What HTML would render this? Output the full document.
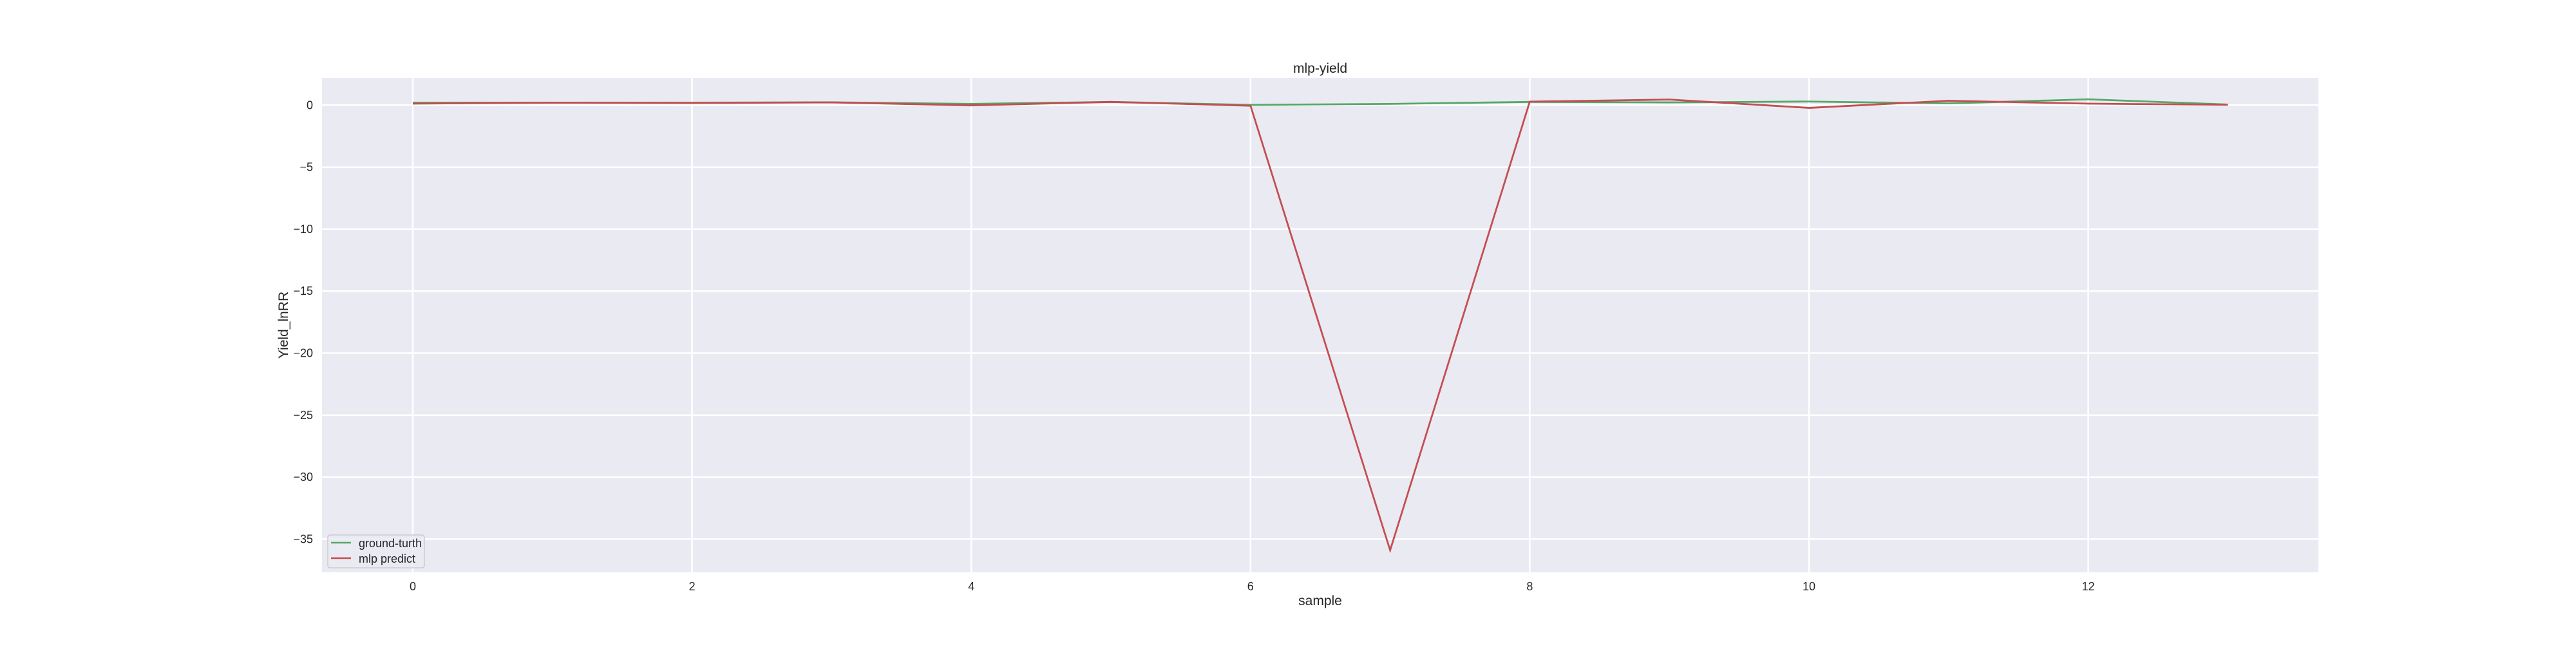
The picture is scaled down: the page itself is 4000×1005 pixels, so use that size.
<!DOCTYPE html>
<html><head><meta charset="utf-8"><style>
body{margin:0;background:#fff;}
svg text{font-family:"Liberation Sans","DejaVu Sans",sans-serif;fill:#262626;}
</style></head><body>
<svg id="chart" width="4000" height="1000" xmlns="http://www.w3.org/2000/svg">
<rect x="0" y="0" width="4000" height="1000" fill="#fff"/>
<rect x="500" y="121" width="3100" height="768" fill="#eaeaf2"/>
<g id="grid"></g>
<g id="series"></g>
<g id="ticks"></g>
<text x="2050" y="113" font-size="21" text-anchor="middle">mlp-yield</text>
<text x="2050" y="940" font-size="21" text-anchor="middle">sample</text>
<text transform="translate(447,505) rotate(-90)" font-size="21" text-anchor="middle">Yield_lnRR</text>
<g>
<rect x="509" y="831" width="150" height="51" rx="4" fill="#eaeaf2" fill-opacity="0.8" stroke="#cccccc" stroke-width="1.5"/>
<line x1="514" y1="843" x2="545" y2="843" stroke="#55a868" stroke-width="2.5"/>
<text x="557" y="850" font-size="18">ground-turth</text>
<line x1="514" y1="867" x2="545" y2="867" stroke="#c44e52" stroke-width="2.5"/>
<text x="557" y="874" font-size="18">mlp predict</text>
</g>
</svg>
<script>
const samples=[0,1,2,3,4,5,6,7,8,9,10,11,12,13];
const groundTruth=[0.2,0.2,0.2,0.23,0.1,0.26,0.02,0.1,0.26,0.22,0.29,0.14,0.47,0.05];
const mlpPredict=[0.12,0.2,0.17,0.22,-0.02,0.26,-0.05,-35.9,0.28,0.45,-0.22,0.35,0.12,0.03];
const xTicks=[0,2,4,6,8,10,12];
const yTicks=[0,-5,-10,-15,-20,-25,-30,-35];
const X0=641,XU=216.8,Y0=163.3,YU=19.26;
function sx(v){return X0+v*XU;}
function sy(v){return Y0-v*YU;}
const NS="http://www.w3.org/2000/svg";
const grid=document.getElementById('grid'),ticks=document.getElementById('ticks'),series=document.getElementById('series');
xTicks.forEach(t=>{
 const l=document.createElementNS(NS,'line');
 l.setAttribute('x1',sx(t));l.setAttribute('x2',sx(t));l.setAttribute('y1',121);l.setAttribute('y2',889);
 l.setAttribute('stroke','#fff');l.setAttribute('stroke-width',2.5);
 
 
 grid.appendChild(l);
 const tx=document.createElementNS(NS,'text');
 tx.setAttribute('x',sx(t));tx.setAttribute('y',917);tx.setAttribute('font-size',18);tx.setAttribute('text-anchor','middle');
 tx.textContent=t;
 
 
 ticks.appendChild(tx);
});
yTicks.forEach(t=>{
 const l=document.createElementNS(NS,'line');
 l.setAttribute('x1',500);l.setAttribute('x2',3600);l.setAttribute('y1',sy(t));l.setAttribute('y2',sy(t));
 l.setAttribute('stroke','#fff');l.setAttribute('stroke-width',2.5);
 
 
 grid.appendChild(l);
 const tx=document.createElementNS(NS,'text');
 tx.setAttribute('x',486);tx.setAttribute('y',sy(t)+6);tx.setAttribute('font-size',18);tx.setAttribute('text-anchor','end');
 tx.textContent=t<0?'\u2212'+(-t):String(t);
 
 
 ticks.appendChild(tx);
});
function drawLine(vals,color,name){
 const p=document.createElementNS(NS,'polyline');
 p.setAttribute('points',vals.map((v,i)=>sx(samples[i])+','+sy(v)).join(' '));
 p.setAttribute('fill','none');p.setAttribute('stroke',color);p.setAttribute('stroke-width',2.8);
 
 
 series.appendChild(p);
}
drawLine(groundTruth,'#55a868','ground-truth-line');
drawLine(mlpPredict,'#c44e52','mlp-predict-line');
</script>
</body></html>
